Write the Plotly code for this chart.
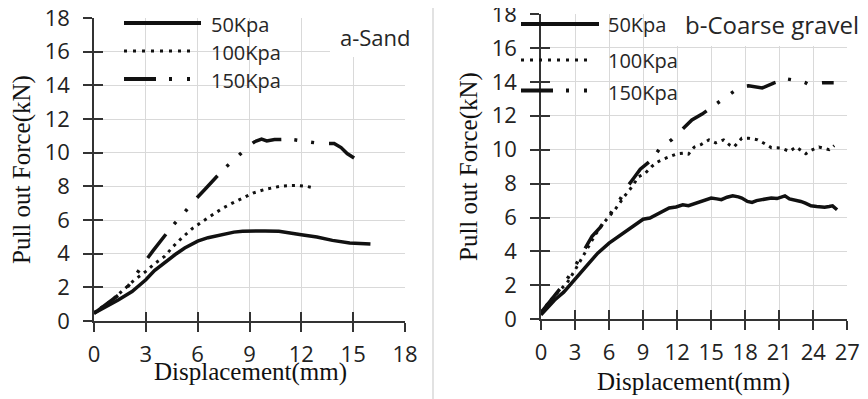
import plotly.graph_objects as go

# ---------------- data ----------------
# a-Sand
sand_50_x = [0, 0.7, 1.4, 2.2, 3.0, 3.5, 4.1, 4.7, 5.25, 6.0, 6.6, 7.2, 7.7, 8.1, 8.6, 9.0, 9.9, 10.7, 11.3, 12.0, 12.9, 13.8, 14.8, 15.4, 16.0]
sand_50_y = [0.46, 0.85, 1.25, 1.75, 2.45, 3.0, 3.5, 3.95, 4.34, 4.74, 4.95, 5.1, 5.2, 5.28, 5.33, 5.35, 5.35, 5.33, 5.22, 5.13, 4.99, 4.79, 4.63, 4.6, 4.57]

sand_100_x = [0, 0.5, 1.0, 1.7, 2.3, 3.0, 3.5, 4.1, 4.6, 5.15, 5.7, 6.3, 6.9, 7.4, 8.0, 8.6, 9.2, 9.9, 10.4, 10.8, 11.3, 11.8, 12.3, 12.7]
sand_100_y = [0.5, 0.85, 1.2, 1.85, 2.4, 2.95, 3.4, 3.85, 4.45, 5.0, 5.5, 5.93, 6.35, 6.67, 7.0, 7.32, 7.6, 7.82, 7.95, 8.01, 8.04, 8.05, 8.0, 7.91]

sand_150_x = [0, 0.5, 1.0, 1.5, 2.0, 2.35, 2.9, 3.4, 3.95, 4.5, 5.15, 5.8, 6.4, 6.95, 7.55, 8.25, 8.95, 9.3, 9.7, 10.0, 10.45, 11.35, 12.2, 13.05, 13.9, 14.3, 14.65, 15.4]
sand_150_y = [0.45, 0.85, 1.2, 1.6, 2.1, 2.65, 3.45, 4.15, 4.9, 5.6, 6.35, 7.15, 7.8, 8.42, 9.07, 9.7, 10.4, 10.65, 10.8, 10.7, 10.78, 10.8, 10.7, 10.55, 10.55, 10.3, 9.95, 9.45]

# b-Coarse gravel
grav_50_x = [0, 0.6, 1.2, 2.0, 2.7, 3.5, 4.2, 5.0, 6.0, 6.8, 7.4, 8.2, 9.0, 9.6, 10.1, 10.7, 11.3, 11.9, 12.5, 13.0, 13.6, 14.1, 14.6, 15.0, 15.5, 15.9, 16.4, 16.9, 17.4, 17.7, 18.2, 18.6, 19.0, 19.4, 19.9, 20.3, 20.8, 21.2, 21.5, 21.9, 22.3, 22.9, 23.3, 23.8, 24.3, 25.0, 25.4, 25.7, 26.1]
grav_50_y = [0.26, 0.7, 1.14, 1.6, 2.13, 2.75, 3.31, 3.9, 4.49, 4.88, 5.18, 5.55, 5.9, 5.97, 6.16, 6.35, 6.56, 6.62, 6.75, 6.7, 6.85, 6.95, 7.05, 7.15, 7.1, 7.05, 7.2, 7.28, 7.22, 7.15, 6.95, 6.89, 7.0, 7.05, 7.1, 7.15, 7.12, 7.22, 7.28, 7.1, 7.05, 6.95, 6.85, 6.69, 6.65, 6.61, 6.65, 6.69, 6.46]

grav_100_x = [0, 0.5, 1.2, 1.8, 2.3, 3.0, 3.6, 4.2, 4.8, 5.6, 6.5, 7.3, 8.0, 8.6, 9.2, 9.75, 10.2, 10.8, 11.4, 12.0, 12.55, 13.0, 13.5, 14.1, 14.8, 15.4, 16.1, 16.6, 17.0, 17.7, 18.3, 19.1, 19.65, 20.3, 21.15, 21.9, 22.5, 23.35, 23.8, 24.5, 25.4, 25.85]
grav_100_y = [0.4, 0.85, 1.4, 1.8, 2.15, 2.9, 3.6, 4.3, 5.0, 5.75, 6.45, 7.2, 7.8, 8.4, 8.62, 9.0, 9.25, 9.45, 9.6, 9.76, 9.8, 9.74, 10.15, 10.3, 10.58, 10.4, 10.58, 10.29, 10.15, 10.68, 10.68, 10.58, 10.38, 10.12, 10.1, 9.9, 10.16, 9.76, 9.96, 10.16, 10.0, 10.24]

grav_150_x = [0, 0.5, 1.2, 2.1, 2.85, 3.6, 4.5, 5.2, 5.65, 6.1, 6.5, 7.0, 7.7, 8.15, 8.75, 9.75, 10.5, 11.55, 12.4, 13.3, 14.2, 15.25, 16.3, 17.0, 17.6, 18.3, 19.5, 20.5, 21.7, 22.3, 22.9, 23.3, 23.6, 24.8, 25.8]
grav_150_y = [0.4, 0.8, 1.4, 2.15, 2.95, 3.8, 4.9, 5.4, 5.85, 6.2, 6.65, 7.1, 7.9, 8.3, 8.85, 9.4, 10.1, 10.6, 11.15, 11.75, 12.1, 12.6, 13.15, 13.45, 13.72, 13.77, 13.64, 13.93, 14.17, 14.1, 14.05, 13.95, 13.84, 13.94, 13.94]

series_names = ["50Kpa", "100Kpa", "150Kpa"]
panel_labels = ["a-Sand", "b-Coarse gravel"]
x_title = "Displacement(mm)"
y_title = "Pull out Force(kN)"

# ---------------- styling ----------------
W, H = 868, 399
OX, OY = 8, 8   # page body margin offset of the figure
BLACK = "#111111"
GRID = "#d9d9d9"
AXIS = "#333333"
SANS = "Open Sans"
SERIF = "Liberation Serif"
DOT = "3px,5px"
DASHDOT = "30px,13px,3px,14px,3px,15px"
styles = [dict(width=3.5, dash="solid"), dict(width=3, dash=DOT), dict(width=3.5, dash=DASHDOT)]

def px(x):
    return (x - OX) / W

def py(y):
    return 1 - (y - OY) / H

fig = go.Figure()

panel_data = [
    [(sand_50_x, sand_50_y), (sand_100_x, sand_100_y), (sand_150_x, sand_150_y)],
    [(grav_50_x, grav_50_y), (grav_100_x, grav_100_y), (grav_150_x, grav_150_y)],
]
axes_ids = [("x", "y"), ("x2", "y2")]
for p, (xa, ya) in enumerate(axes_ids):
    for s, (xs, ys) in enumerate(panel_data[p]):
        fig.add_trace(go.Scatter(x=xs, y=ys, mode="lines", name=series_names[s],
                                 xaxis=xa, yaxis=ya, showlegend=False,
                                 line=dict(color=BLACK, **styles[s])))
# empty traces to activate the "inside tick" overlay axes
fig.add_trace(go.Scatter(x=[], y=[], xaxis="x3", yaxis="y3", showlegend=False))
fig.add_trace(go.Scatter(x=[], y=[], xaxis="x4", yaxis="y4", showlegend=False))

common_x = dict(showline=True, linecolor=AXIS, linewidth=1.5, ticks="outside", ticklen=9,
                tickwidth=1.5, tickcolor=AXIS, showgrid=True, gridcolor=GRID, gridwidth=1.3,
                zeroline=False, tickfont=dict(family=SANS, size=22, color="#222"),
                tickmode="linear", tick0=0, ticklabelstandoff=4, automargin=False,
                ticklabeloverflow="allow")
common_y = dict(showline=True, linecolor=AXIS, linewidth=1.5, ticks="outside", ticklen=9,
                tickwidth=1.5, tickcolor=AXIS, showgrid=True, gridcolor=GRID, gridwidth=1.3,
                zeroline=False, tickfont=dict(family=SANS, size=22, color="#222"),
                tickmode="linear", tick0=0, dtick=2, range=[0, 18], ticklabelstandoff=9,
                automargin=False, ticklabeloverflow="allow")
inside = dict(showline=False, ticks="inside", ticklen=9, tickwidth=1.5, tickcolor=AXIS,
              showgrid=False, zeroline=False, showticklabels=False, tickmode="linear", tick0=0,
              automargin=False)

d1x = [px(94), px(405)]
d1y = [py(321), py(18)]
d2x = [px(541), px(847.3)]
d2y = [py(319.3), py(14)]

fig.update_layout(
    template="none",
    width=W, height=H, margin=dict(l=0, r=0, t=0, b=0, autoexpand=False),
    paper_bgcolor="white", plot_bgcolor="white", showlegend=False,
    xaxis=dict(domain=d1x, anchor="y", range=[0, 18], dtick=3, **common_x),
    yaxis=dict(domain=d1y, anchor="x", **common_y),
    xaxis2=dict(domain=d2x, anchor="y2", range=[0, 27], dtick=3, **common_x),
    yaxis2=dict(domain=d2y, anchor="x2", **common_y),
    xaxis3=dict(overlaying="x", anchor="y", side="bottom", range=[0, 18], dtick=3, **inside),
    yaxis3=dict(overlaying="y", anchor="x", side="left", range=[0, 18], dtick=2, **inside),
    xaxis4=dict(overlaying="x2", anchor="y2", side="bottom", range=[0, 27], dtick=3, **inside),
    yaxis4=dict(overlaying="y2", anchor="x2", side="left", range=[0, 18], dtick=2, **inside),
)

shapes = []
# panel separator
shapes.append(dict(type="line", xref="paper", yref="paper", x0=px(433), x1=px(433), y0=py(0), y1=py(399),
                   line=dict(color=GRID, width=1.5)))
# white boxes behind panel labels
shapes.append(dict(type="rect", xref="paper", yref="paper", x0=px(330), x1=px(428), y0=py(57), y1=py(8),
                   fillcolor="white", line=dict(width=0), layer="above"))
shapes.append(dict(type="rect", xref="paper", yref="paper", x0=px(675), x1=px(868), y0=py(46), y1=py(8),
                   fillcolor="white", line=dict(width=0), layer="above"))

# legend samples
leg_dash = ["solid", "3px,6px", "32px,13px,3px,15px,3px,20px"]
leg_w = [4, 3, 4]
leg_left = [(124, 201, 23), (124, 195, 51), (124, 192, 79)]
leg_right = [(521, 599, 24), (521, 592, 60), (521, 592, 90.5)]
for rows in (leg_left, leg_right):
    for i, (a, b, yy) in enumerate(rows):
        shapes.append(dict(type="line", xref="paper", yref="paper", x0=px(a), x1=px(b),
                           y0=py(yy), y1=py(yy), layer="above",
                           line=dict(color=BLACK, width=leg_w[i], dash=leg_dash[i])))
fig.update_layout(shapes=shapes)

ann = []
leg_text_left = [(209, 24), (209, 52), (209, 80)]
leg_text_right = [(606, 25), (606, 60), (606, 92)]
for rows in (leg_text_left, leg_text_right):
    for i, (xx, yy) in enumerate(rows):
        ann.append(dict(text=series_names[i], xref="paper", yref="paper", x=px(xx), y=py(yy),
                        xanchor="left", yanchor="middle", showarrow=False,
                        font=dict(family=SANS, size=20, color="#262626")))
ann.append(dict(text=panel_labels[0], xref="paper", yref="paper", x=px(338), y=py(37),
                xanchor="left", yanchor="middle", showarrow=False,
                font=dict(family=SANS, size=22, color="#262626")))
ann.append(dict(text=panel_labels[1], xref="paper", yref="paper", x=px(683), y=py(25),
                xanchor="left", yanchor="middle", showarrow=False,
                font=dict(family=SANS, size=24, color="#262626")))
# axis titles
ann.append(dict(text=x_title, xref="paper", yref="paper", x=px(250), y=py(372),
                xanchor="center", yanchor="middle", showarrow=False,
                font=dict(family=SERIF, size=25, color=BLACK)))
ann.append(dict(text=x_title, xref="paper", yref="paper", x=px(693), y=py(382),
                xanchor="center", yanchor="middle", showarrow=False,
                font=dict(family=SERIF, size=25, color=BLACK)))
ann.append(dict(text=y_title, xref="paper", yref="paper", x=px(22), y=py(170), textangle=-90,
                xanchor="center", yanchor="middle", showarrow=False,
                font=dict(family=SERIF, size=25, color=BLACK)))
ann.append(dict(text=y_title, xref="paper", yref="paper", x=px(469), y=py(167), textangle=-90,
                xanchor="center", yanchor="middle", showarrow=False,
                font=dict(family=SERIF, size=25, color=BLACK)))
fig.update_layout(annotations=ann)

fig.write_html("out.html")
